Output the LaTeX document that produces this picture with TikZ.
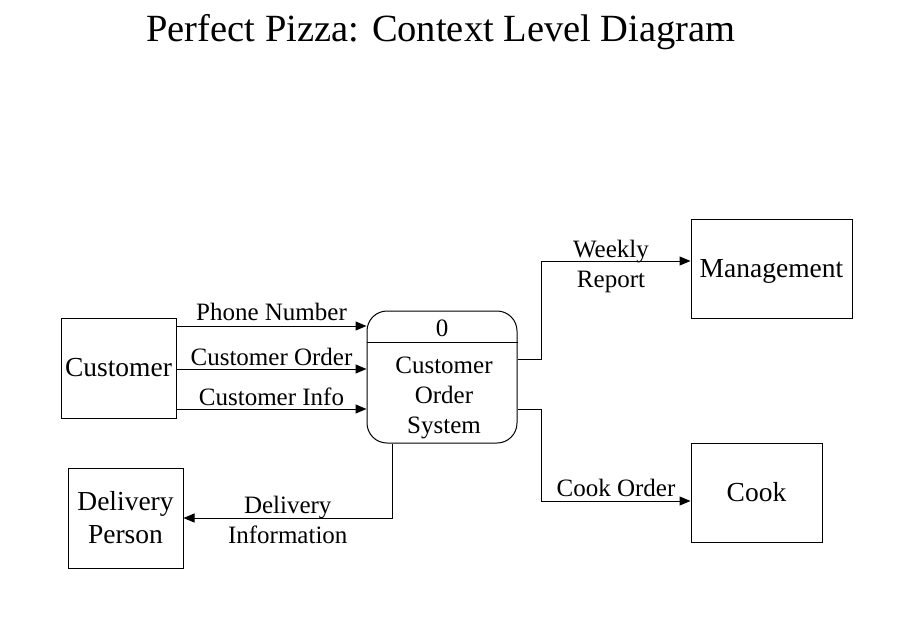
\documentclass[tikz,border=0pt]{standalone}
\usepackage{fontspec}
\setmainfont{Liberation Serif}
\usetikzlibrary{arrows.meta}

\begin{document}
\begin{tikzpicture}[
    x=1pt, y=-1pt,
    >={Triangle[length=11pt,width=9pt]}, line width=1pt,
    every node/.style={font=\fontsize{25}{30}\selectfont},
    entity/.style={draw, rectangle, align=center, inner sep=0pt, font=\fontsize{27.5}{33}\selectfont},
    process/.style={draw, rectangle, rounded corners=20pt, minimum width=150pt, minimum height=132pt},
    flow/.style={align=center, inner sep=3pt}
]
\useasboundingbox (0,0) rectangle (901,627);

\node[font=\fontsize{38.5}{44}\selectfont] (title) at (441,32) {Perfect Pizza: Context Level Diagram};

% external entities
\node[entity, minimum width=115pt, minimum height=100pt] (customer) at (118.5,368) {Customer};
\node[entity, minimum width=115pt, minimum height=100pt] (delivery) at (125.5,518) {Delivery\\Person};
\node[entity, minimum width=161pt, minimum height=99pt, text depth=0pt] (mgmt) at (771.5,268.5) {Management};
\node[entity, minimum width=131pt, minimum height=99pt] (cook) at (756.5,492.5) {Cook};

% the process
\node[process] (system) at (442,377) {};
\draw ([yshift=-32pt]system.north west) -- ([yshift=-32pt]system.north east);
\node (sysid) at (442,328) {0};
\node[align=center] (sysname) at (444,398) {Customer\\Order\\System};

% data flows
\draw[->] (customer.east |- 0,326) -- node[flow, above, yshift=2pt] {Phone Number} (system.west |- 0,326);
\draw[->] (customer.east |- 0,369) -- node[flow, above] {Customer Order} (system.west |- 0,369);
\draw[->] (customer.east |- 0,409) -- node[flow, above] {Customer Info} (system.west |- 0,409);
\draw[->] (system.east |- 0,359) -- ++(24,0) |- node[flow, pos=0.75, xshift=-5pt, yshift=-5pt] {Weekly\\Report} (mgmt.west |- 0,261);
\draw[->] (system.east |- 0,409) -- ++(24,0) |- node[flow, pos=0.75, above, inner sep=4pt] {Cook Order} (cook.west |- 0,501);
\draw[->] (system.south -| 392,0) |- node[flow, pos=0.75, yshift=-2pt] {Delivery\\Information} (delivery.east);
\end{tikzpicture}
\end{document}
